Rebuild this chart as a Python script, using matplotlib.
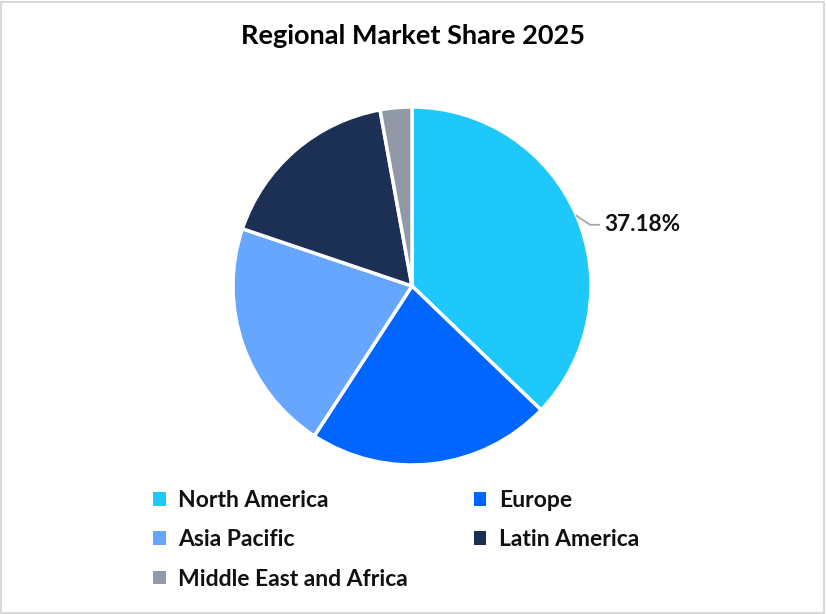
import matplotlib
matplotlib.use("Agg")
import matplotlib.pyplot as plt
from matplotlib.patches import Rectangle
import numpy as np

title = "Regional Market Share 2025"
regions = ["North America", "Europe", "Asia Pacific", "Latin America", "Middle East and Africa"]
shares = [37.18, 22.01, 20.99, 16.96, 2.86]
colors = ["#1EC8FA", "#0066FF", "#66A6FF", "#1C3055", "#9198A6"]
labelled = [0]

plt.rcParams['font.family'] = ['Lato', 'DejaVu Sans']

W, H = 826, 614
fig = plt.figure(figsize=(W / 100, H / 100), dpi=100)
fig.patch.set_facecolor("white")

# border
fig.add_artist(Rectangle((1 / W, 1 / H), 1 - 3 / W, 1 - 3 / H, transform=fig.transFigure,
                         fill=False, edgecolor="#D9D9D9", linewidth=1.5))

cx, cy, r = 412, 286, 179
ax = fig.add_axes([(cx - r) / W, (H - cy - r) / H, 2 * r / W, 2 * r / H])
wedges, _ = ax.pie(shares, colors=colors, startangle=90, counterclock=False,
                   wedgeprops=dict(edgecolor="white", linewidth=2.5), radius=1)
ax.set_xlim(-1, 1)
ax.set_ylim(-1, 1)
ax.set_aspect("equal")
ax.axis("off")

for i in labelled:
    w = wedges[i]
    ang = np.deg2rad((w.theta1 + w.theta2) / 2)
    x0, y0 = np.cos(ang), np.sin(ang)
    x1, y1 = x0 + 0.075, y0 - 0.05
    x2 = x1 + 0.05
    ax.plot([x0, x1, x2], [y0, y1, y1], color="#A6A6A6", lw=1.3, clip_on=False)
    ax.text(x2 + 0.03, y1, f"{shares[i]:.2f}%", ha="left", va="center",
            fontsize=16.3, fontweight="bold", color="#111111")

fig.text(413 / W, 1 - 36 / H, title, ha="center", va="center", fontsize=19.5,
         fontweight="bold", color="#000000")

# legend filled row by row (matplotlib fills columns first)
order = [0, 2, 4, 1, 3]
handles = [Rectangle((0, 0), 1, 1, facecolor=colors[k], edgecolor="none") for k in order]
labels = [regions[k] for k in order]
leg = fig.legend(handles, labels, ncol=2, loc="upper left",
                 bbox_to_anchor=(153 / W, 1 - 490 / H), frameon=False,
                 prop=dict(size=16.5, weight="bold"), handlelength=0.55, handleheight=0.55,
                 handletextpad=0.55, columnspacing=2.87, labelspacing=0.8, borderpad=0,
                 borderaxespad=0)
for t in leg.get_texts():
    t.set_color("#111111")

fig.savefig("out.png", dpi=100, facecolor="white")
